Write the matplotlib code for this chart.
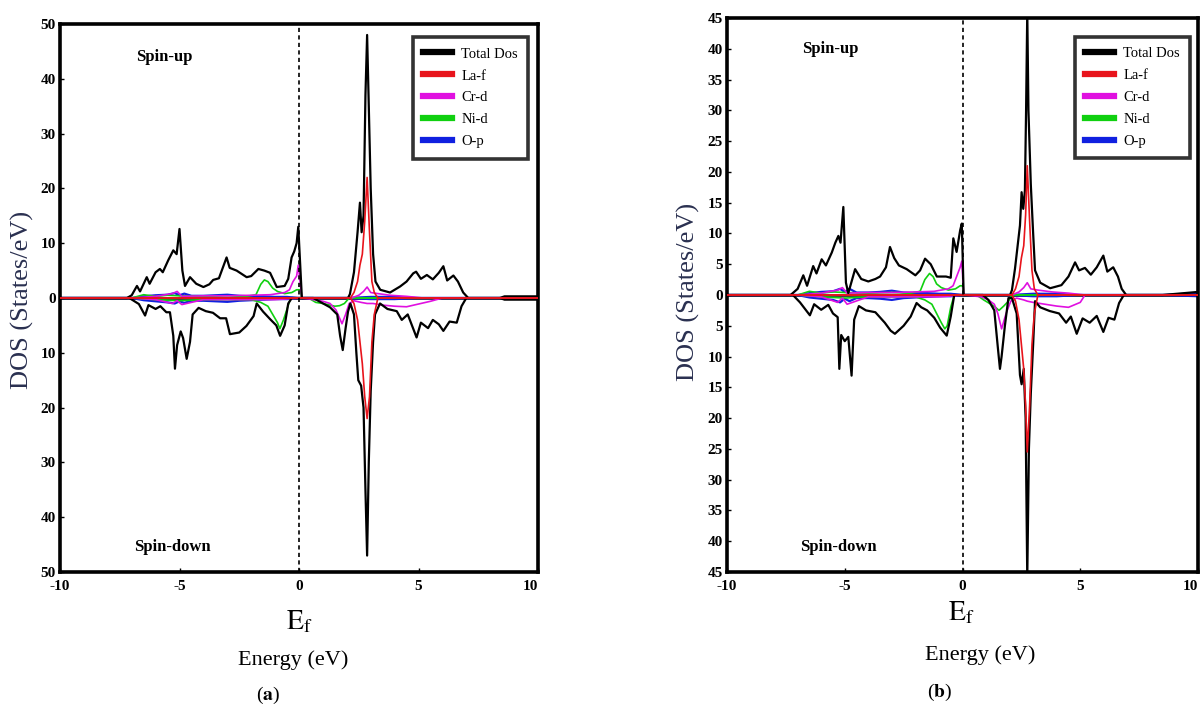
import numpy as np
import matplotlib.pyplot as plt

plt.rcParams['font.family'] = ['Liberation Serif', 'DejaVu Serif']
plt.rcParams['mathtext.fontset'] = 'stix'

labels = ['Total Dos', 'La-f', 'Cr-d', 'Ni-d', 'O-p']
colors = ['black', '#e8141c', '#e010e0', '#10d010', '#1020e0']

# ---------------- panel (a) ----------------
a_tot_up_E = [-10, -7.2, -7.0, -6.78, -6.65, -6.37, -6.25, -6.0, -5.82, -5.7, -5.47, -5.26, -5.12, -5.0, -4.88,
              -4.77, -4.56, -4.3, -4.0, -3.75, -3.59, -3.35, -3.03, -2.9, -2.61, -2.19, -2.0, -1.7, -1.45, -1.21,
              -0.93, -0.6, -0.45, -0.31, -0.2, -0.1, -0.03, 0.12, 2.05, 2.13, 2.3, 2.45, 2.55, 2.62, 2.7, 2.78,
              2.85, 2.92, 3.0, 3.1, 3.2, 3.4, 3.81, 4.23, 4.5, 4.78, 4.9, 5.1, 5.35, 5.6, 5.85, 6.04, 6.2, 6.46,
              6.65, 6.87, 7.08, 8.4, 8.6, 10]
a_tot_up = [0, 0, 0.5, 2.2, 1.2, 3.8, 2.6, 4.7, 5.3, 4.7, 6.9, 8.7, 8.0, 12.6, 5.0,
            2.2, 3.8, 2.6, 2.0, 2.5, 3.3, 3.6, 7.4, 5.5, 5.0, 3.8, 4.0, 5.3, 5.0, 4.6,
            2.0, 2.2, 3.5, 7.4, 8.5, 10, 13, 0, 0, 0.7, 4.7, 12, 17.4, 12, 15, 37,
            48, 35, 20, 8, 3, 1.5, 1.0, 2.1, 3.0, 4.5, 4.8, 3.5, 4.2, 3.4, 4.6, 5.8, 3.2, 4.1,
            3.0, 1.0, 0, 0, 0.3, 0.3]
a_tot_dn_E = [-10, -7.1, -6.7, -6.44, -6.3, -6.0, -5.8, -5.55, -5.4, -5.26, -5.19, -5.1, -4.95, -4.85, -4.70,
              -4.56, -4.45, -4.2, -3.9, -3.6, -3.3, -3.05, -2.89, -2.5, -2.2, -1.9, -1.77, -1.5, -1.2, -0.95,
              -0.79, -0.6, -0.45, -0.3, 0.6, 0.8, 1.3, 1.6, 1.72, 1.83, 1.95, 2.05, 2.15, 2.3, 2.4, 2.48, 2.6,
              2.7, 2.78, 2.85, 2.92, 3.0, 3.1, 3.18, 3.39, 3.7, 4.09, 4.3, 4.55, 4.92, 5.1, 5.4, 5.6, 5.85,
              6.04, 6.3, 6.6, 6.8, 7.0, 8.4, 8.6, 10]
a_tot_dn = [0, 0, -1.1, -3.2, -1.3, -2.0, -1.5, -2.6, -2.6, -6.9, -12.9, -8.6, -6.1, -7.3, -11.1,
            -8.0, -3.0, -1.8, -2.4, -2.7, -3.7, -3.7, -6.6, -6.3, -5.1, -3.3, -1.0, -2.5, -3.9, -5.0,
            -6.9, -5.0, -1.0, 0, 0, -0.5, -1.7, -3.0, -6.9, -9.5, -5.5, -2.5, -1.0, -3.0, -10, -15, -16,
            -20, -35, -47, -30, -17, -8, -3, -1, -2.0, -2.4, -4.0, -3.0, -7.2, -4.5, -5.5, -4.0, -4.8,
            -6.0, -4.3, -4.5, -1.5, 0, 0, -0.3, -0.3]
a_la_E = [-10, 2.15, 2.3, 2.45, 2.55, 2.65, 2.75, 2.85, 2.95, 3.05, 3.15, 3.3, 10]
a_la_up = [0, 0, 1, 3, 6, 8, 14, 22, 12, 3, 1, 0, 0]
a_la_dn = [0, 0, -1, -4, -8, -12, -18, -22, -18, -8, -3, 0, 0]
a_cr_up_E = [-10, -7, -6, -5.3, -5.1, -4.9, -4, -3, -2, -1.2, -0.6, -0.4, -0.25, -0.1, -0.03, 0.12,
             2.2, 2.5, 2.7, 2.85, 3.0, 3.3, 3.8, 4.5, 5.2, 10]
a_cr_up = [0, 0, 0.3, 0.8, 1.2, 0.3, 0.4, 0.4, 0.5, 0.6, 1.0, 1.5, 3, 4, 6, 0,
           0, 0.5, 1.2, 2.0, 1.0, 0.8, 0.5, 0.3, 0, 0]
a_cr_dn_E = [-10, -7, -6, -5.3, -5.1, -4.9, -4, -2, -1, 0.1, 0.6, 1.0, 1.3, 1.55, 1.8, 1.95, 2.1,
             2.3, 2.6, 2.85, 3.1, 3.5, 4.0, 4.5, 5.0, 5.5, 6.0, 10]
a_cr_dn = [0, 0, -0.3, -1.0, -0.5, -1.2, -0.3, -0.3, -0.3, 0, -0.3, -0.6, -1.0, -2.2, -4.7, -3.0, -1.0,
           -0.5, -0.8, -1.0, -1.0, -1.3, -1.5, -1.6, -1.1, -0.6, 0, 0]
a_ni_up_E = [-10, -7, -6.5, -6, -5.5, -5, -4, -3, -2.2, -1.8, -1.6, -1.45, -1.3, -1.1, -0.9, -0.6, -0.3,
             -0.1, 0.05, 0.12, 10]
a_ni_up = [0, 0, 0.6, 0.3, 0.5, 0.4, 0.3, 0.4, 0.3, 0.6, 2.5, 3.3, 3.0, 1.8, 1.2, 0.8, 1.0,
           1.5, 1.5, 0, 0]
a_ni_dn_E = [-10, -7, -6, -5, -4, -3, -2, -1.6, -1.3, -1.1, -0.9, -0.8, -0.65, -0.5, -0.35, 0.4, 0.7,
             1.0, 1.3, 1.5, 1.7, 1.9, 2.1, 10]
a_ni_dn = [0, 0, -0.3, -0.5, -0.3, -0.3, -0.3, -0.8, -1.5, -3.0, -4.5, -5.6, -4, -2, 0, 0, -0.8,
           -1.0, -1.3, -1.5, -1.4, -1.0, 0, 0]
a_op_E = [-10, -7, -6.5, -6, -5.5, -5.2, -5.0, -4.8, -4.5, -4, -3.5, -3, -2.5, -2, -1.5, -1, -0.5, 0,
          2, 3, 4, 5, 10]
a_op_up = [0, 0, 0.3, 0.5, 0.6, 0.9, 0.5, 0.8, 0.4, 0.4, 0.5, 0.6, 0.4, 0.3, 0.3, 0.2, 0.2, 0,
           0, 0.2, 0.2, 0, 0]
a_op_dn = [0, 0, -0.4, -0.6, -0.8, -1.0, -0.6, -0.9, -0.5, -0.5, -0.6, -0.7, -0.5, -0.4, -0.3, -0.2, -0.2, 0,
           0, -0.2, -0.2, 0, 0]

# ---------------- panel (b) ----------------
b_tot_up_E = [-10, -7.3, -7.0, -6.76, -6.6, -6.34, -6.2, -5.98, -5.8, -5.55, -5.4, -5.27, -5.18, -5.06,
              -4.95, -4.85, -4.56, -4.3, -4.0, -3.7, -3.5, -3.25, -3.08, -2.9, -2.7, -2.37, -2.0, -1.8,
              -1.59, -1.35, -1.09, -0.7, -0.5, -0.39, -0.25, -0.1, -0.03, 0.05, 2.02, 2.1, 2.23, 2.44,
              2.51, 2.58, 2.65, 2.7, 2.75, 2.8, 2.9, 3.0, 3.08, 3.3, 3.72, 4.2, 4.5, 4.78, 4.95, 5.2,
              5.45, 5.7, 5.98, 6.15, 6.4, 6.6, 6.76, 6.95, 8.5, 10]
b_tot_up = [0, 0, 1.0, 3.2, 1.5, 4.7, 3.5, 5.8, 4.8, 6.9, 8.5, 9.6, 8.5, 14.3,
            2.0, 0.3, 4.2, 2.6, 2.2, 2.6, 3.0, 4.5, 7.8, 6.0, 4.8, 4.2, 3.2, 4.0,
            5.9, 5.0, 3.0, 3.0, 2.8, 9.2, 7.0, 10.5, 11.6, 0, 0, 0.8, 4.3, 11.3,
            16.7, 14, 17, 30, 46, 30, 18, 10, 4, 2, 1.1, 1.6, 3.0, 5.3, 4.0, 4.4,
            3.3, 4.5, 6.4, 3.8, 4.5, 3.0, 1.0, 0, 0, 0.5]
b_tot_dn_E = [-10, -7.2, -6.9, -6.48, -6.3, -6.0, -5.7, -5.5, -5.3, -5.23, -5.15, -5.0, -4.85, -4.71,
              -4.6, -4.4, -4.1, -3.7, -3.3, -3.05, -2.87, -2.5, -2.2, -1.95, -1.75, -1.5, -1.2, -0.95,
              -0.67, -0.5, -0.35, 0.87, 1.1, 1.35, 1.5, 1.59, 1.66, 1.8, 1.95, 2.1, 2.3, 2.44, 2.51,
              2.6, 2.68, 2.75, 2.82, 2.9, 3.0, 3.08, 3.3, 3.7, 4.1, 4.4, 4.6, 4.85, 5.1, 5.4, 5.7,
              5.98, 6.2, 6.45, 6.65, 6.85, 10]
b_tot_dn = [0, 0, -1.2, -3.3, -1.5, -2.4, -1.6, -3.0, -3.6, -12, -6.5, -7.5, -6.8, -13.1,
            -4.0, -1.8, -2.5, -2.8, -4.5, -5.8, -6.3, -5.0, -3.5, -1.3, -2.0, -2.5, -3.7, -5.3,
            -6.6, -3.5, 0, 0, -0.8, -2.5, -8.5, -12, -10, -5, -0.5, -0.5, -3, -13, -14.5,
            -12, -20, -46, -25, -16, -8, -1, -2.0, -2.6, -3.0, -4.5, -3.5, -6.3, -3.8, -4.5, -3.4,
            -6.0, -3.7, -4.0, -1.3, 0, 0]
b_la_E = [-10, 2.1, 2.25, 2.4, 2.5, 2.6, 2.68, 2.75, 2.85, 2.95, 3.05, 3.2, 10]
b_la_up = [0, 0, 1, 3, 6, 8, 13, 21, 12, 4, 1, 0, 0]
b_la_dn = [0, 0, -1, -4, -8, -12, -18, -25.5, -18, -8, -3, 0, 0]
b_cr_up_E = [-10, -7, -6, -5.3, -5.1, -4.9, -4, -3, -2, -1.2, -0.6, -0.4, -0.25, -0.1, -0.03, 0.05,
             2.1, 2.4, 2.6, 2.75, 2.9, 3.2, 3.8, 4.5, 5.2, 10]
b_cr_up = [0, 0, 0.3, 0.8, 1.2, 0.3, 0.4, 0.4, 0.5, 0.6, 1.0, 1.5, 3, 4.5, 5.5, 0,
           0, 0.5, 1.2, 2.0, 1.0, 0.8, 0.5, 0.3, 0, 0]
b_cr_dn_E = [-10, -7, -6, -5.3, -5.1, -4.9, -4, -2, -1, 0.1, 0.8, 1.1, 1.35, 1.5, 1.66, 1.85, 2.05,
             2.3, 2.6, 2.75, 3.0, 3.5, 4.0, 4.5, 5.0, 5.2, 10]
b_cr_dn = [0, 0, -0.3, -1.2, -0.5, -1.5, -0.3, -0.3, -0.3, 0, -0.3, -0.8, -1.5, -3.0, -5.5, -3.0, -1.0,
           -0.5, -0.8, -1.0, -1.2, -1.5, -1.8, -2.0, -1.2, 0, 0]
b_ni_up_E = [-10, -7, -6.5, -6, -5.5, -5, -4, -3, -2.2, -1.8, -1.6, -1.4, -1.25, -1.1, -0.9, -0.6,
             -0.3, -0.1, 0.0, 0.05, 10]
b_ni_up = [0, 0, 0.6, 0.3, 0.5, 0.4, 0.3, 0.4, 0.3, 0.6, 2.5, 3.5, 3.0, 1.8, 1.2, 0.8,
           1.0, 1.5, 1.5, 0, 0]
b_ni_dn_E = [-10, -7, -6, -5, -4, -3, -2, -1.6, -1.3, -1.1, -0.9, -0.75, -0.65, -0.5, -0.35, 0.6,
             0.9, 1.2, 1.4, 1.55, 1.75, 1.95, 2.1, 10]
b_ni_dn = [0, 0, -0.3, -0.5, -0.3, -0.3, -0.3, -0.8, -1.5, -3.0, -4.5, -5.5, -5.0, -2, 0, 0,
           -0.8, -1.5, -2.0, -2.5, -1.8, -1.0, 0, 0]
b_op_E = [-10, -7, -6.5, -6, -5.5, -5.2, -5.0, -4.8, -4.5, -4, -3.5, -3, -2.5, -2, -1.5, -1, -0.5,
          0, 2, 3, 4, 5, 8.5, 10]
b_op_up = [0, 0, 0.3, 0.5, 0.6, 1.0, 0.5, 1.0, 0.4, 0.4, 0.5, 0.7, 0.4, 0.3, 0.3, 0.2, 0.2,
           0, 0, 0.2, 0.2, 0, 0, 0.3]
b_op_dn = [0, 0, -0.4, -0.6, -0.8, -1.2, -0.6, -1.0, -0.5, -0.5, -0.6, -0.8, -0.5, -0.4, -0.3, -0.2, -0.2,
           0, 0, -0.2, -0.2, 0, 0, -0.2]

a_yticks = [-50, -40, -30, -20, -10, 0, 10, 20, 30, 40, 50]
b_yticks = [-45, -40, -35, -30, -25, -20, -15, -10, -5, 0, 5, 10, 15, 20, 25, 30, 35, 40, 45]
xticks = [-10, -5, 0, 5, 10]

W, H = 1203, 711
fig = plt.figure(figsize=(W / 100, H / 100), dpi=100)


def px(l, t, r, b):
    return [l / W, 1 - b / H, (r - l) / W, (b - t) / H]


def panel(ax, series, ylim, yticks, spin_up_y, spin_dn_y, leg_anchor):
    ax.axhline(0, color='black', lw=1.8, zorder=1)
    for (E, v, c, lw, z) in series:
        ax.plot(E, v, color=c, lw=lw, zorder=z)
    ax.axvline(0, color='black', lw=1.2, ls=(0, (2.5, 2)), zorder=5)
    ax.set_xlim(-10, 10)
    ax.set_ylim(-ylim, ylim)
    ax.set_xticks(xticks)
    ax.set_xticklabels([str(t) for t in xticks])
    ax.set_yticks(yticks)
    ax.set_yticklabels([str(abs(t)) for t in yticks])
    ax.tick_params(direction='in', length=3, width=1, labelsize=11)
    ax.tick_params(axis='x', pad=6)
    ax.tick_params(axis='y', pad=3)
    for t in ax.get_xticklabels() + ax.get_yticklabels():
        t.set_fontweight('bold')
    ax.get_xticklabels()[-1].set_horizontalalignment('right')
    for s in ax.spines.values():
        s.set_linewidth(2.6)
    ax.text(-6.8, spin_up_y, 'Spin-up', fontsize=12, fontweight='bold', va='center')
    ax.text(-6.9, spin_dn_y, 'Spin-down', fontsize=12, fontweight='bold', va='center')
    handles = [plt.Line2D([], [], color=c, lw=4.5) for c in colors]
    leg = ax.legend(handles, labels, loc='upper right', bbox_to_anchor=leg_anchor,
                    fontsize=10.5, frameon=True, fancybox=False, handlelength=2.0,
                    labelspacing=0.6, borderpad=0.7, handletextpad=0.6, borderaxespad=0.0)
    leg.get_frame().set_edgecolor('black')
    leg.get_frame().set_linewidth(2.6)


ax_a = fig.add_axes(px(60, 24, 538, 572))
panel(ax_a, [
    (a_op_E, a_op_up, colors[4], 1.6, 2), (a_op_E, a_op_dn, colors[4], 1.6, 2),
    (a_ni_up_E, a_ni_up, colors[3], 1.2, 3), (a_ni_dn_E, a_ni_dn, colors[3], 1.2, 3),
    (a_cr_up_E, a_cr_up, colors[2], 1.2, 3), (a_cr_dn_E, a_cr_dn, colors[2], 1.2, 3),
    (a_tot_up_E, a_tot_up, 'black', 1.6, 4), (a_tot_dn_E, a_tot_dn, 'black', 1.6, 4),
    (a_la_E, a_la_up, colors[1], 1.2, 4.5), (a_la_E, a_la_dn, colors[1], 1.2, 4.5),
], 50, a_yticks, 44, -45.5, (0.979, 0.976))

ax_b = fig.add_axes(px(727, 18, 1198, 572))
panel(ax_b, [
    (b_op_E, b_op_up, colors[4], 1.6, 2), (b_op_E, b_op_dn, colors[4], 1.6, 2),
    (b_ni_up_E, b_ni_up, colors[3], 1.2, 3), (b_ni_dn_E, b_ni_dn, colors[3], 1.2, 3),
    (b_cr_up_E, b_cr_up, colors[2], 1.2, 3), (b_cr_dn_E, b_cr_dn, colors[2], 1.2, 3),
    (b_tot_up_E, b_tot_up, 'black', 1.6, 4), (b_tot_dn_E, b_tot_dn, 'black', 1.6, 4),
    (b_la_E, b_la_up, colors[1], 1.2, 4.5), (b_la_E, b_la_dn, colors[1], 1.2, 4.5),
], 45, b_yticks, 40, -41, (0.983, 0.966))

# captions below the axes
for xc, ylab_x, ylab_y, ef_y, en_x, en_y, tag, tag_x, tag_y in [
        (299, 22, 300, 622, 293, 660, 'a', 268, 695),
        (961, 688, 292, 613, 980, 655, 'b', 940, 692)]:
    fig.text(ylab_x / W, 1 - ylab_y / H, 'DOS (States/eV)', rotation=90, fontsize=19,
             color='#2a3050', ha='center', va='center')
    fig.text(xc / W, 1 - ef_y / H, r'$\mathrm{E}_\mathrm{f}$', fontsize=20, ha='center', va='center')
    fig.text(en_x / W, 1 - en_y / H, 'Energy (eV)', fontsize=16, ha='center', va='center')
    fig.text(tag_x / W, 1 - tag_y / H, r'($\mathbf{' + tag + '}$)', fontsize=14, ha='center', va='center')

fig.savefig('out.png', dpi=100)
